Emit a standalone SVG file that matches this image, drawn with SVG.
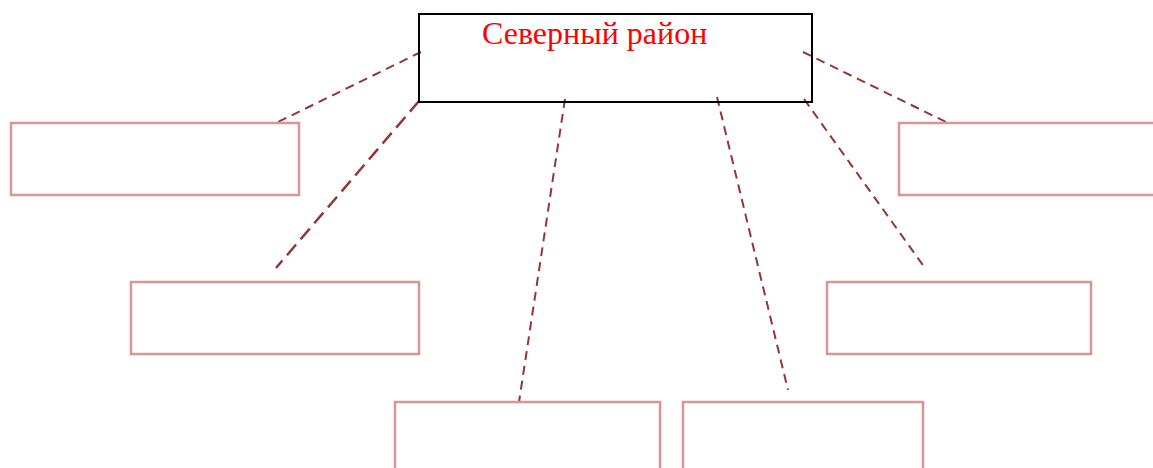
<svg xmlns="http://www.w3.org/2000/svg" width="1153" height="468" viewBox="0 0 1153 468">
<style>
.box{fill:none;stroke:#d99594;stroke-width:2.5}
.main{fill:none;stroke:#000;stroke-width:2}
.title{font-family:"Liberation Serif","Times New Roman",serif;font-size:32px;fill:#ff0000}
.con{stroke:#943634;stroke-width:2;stroke-dasharray:9 6;fill:none}
.con2{stroke:#943634;stroke-width:2.5;stroke-dasharray:14 7;fill:none}
</style>
<rect width="1153" height="468" fill="#fff"/>
<g id="connectors">
<line class="con" x1="421" y1="52" x2="276" y2="123"/>
<line class="con2" x1="419" y1="101" x2="276" y2="268"/>
<line class="con" x1="565" y1="99" x2="519" y2="402"/>
<line class="con" x1="717" y1="97" x2="788" y2="390"/>
<line class="con" x1="804" y1="99" x2="925" y2="268"/>
<line class="con" x1="803" y1="52" x2="948" y2="123"/>
</g>
<g id="main">
<rect class="main" x="419" y="14" width="393" height="88"/>
<text class="title" x="482" y="44">Северный район</text>
</g>
<g id="n1"><rect class="box" x="11" y="123" width="288" height="72"/></g>
<g id="n2"><rect class="box" x="131" y="282" width="288" height="72"/></g>
<g id="n3"><rect class="box" x="395" y="402" width="265" height="80"/></g>
<g id="n4"><rect class="box" x="683" y="402" width="240" height="80"/></g>
<g id="n5"><rect class="box" x="827" y="282" width="264" height="72"/></g>
<g id="n6"><rect class="box" x="899" y="123" width="270" height="72"/></g>
</svg>
